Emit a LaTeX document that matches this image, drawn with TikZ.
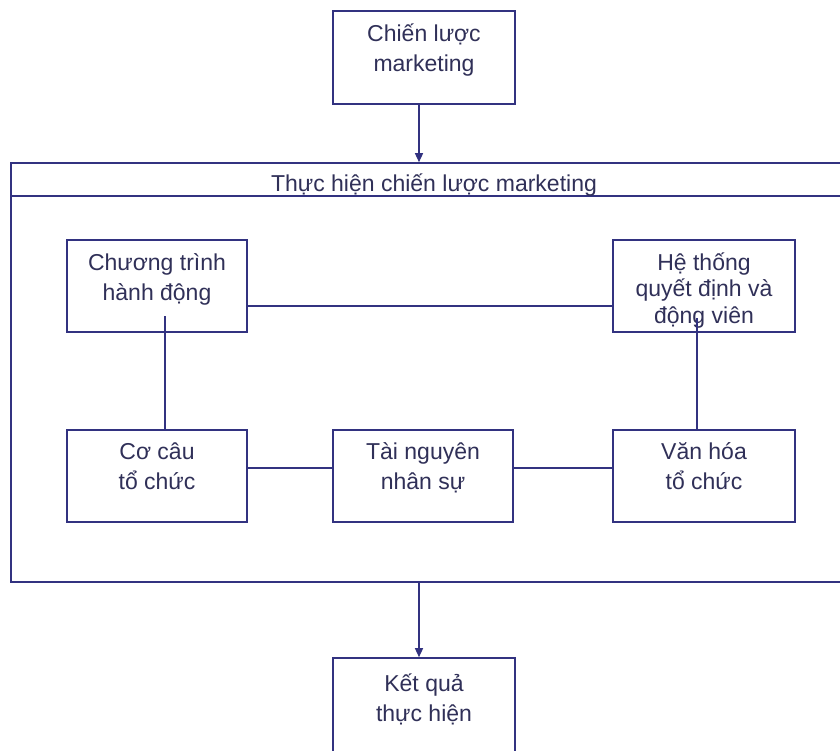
\documentclass[tikz,border=0pt]{standalone}
\usepackage{fontspec}
\setmainfont{Liberation Sans}
\usetikzlibrary{arrows.meta}
\definecolor{frame}{RGB}{50,50,128}
\definecolor{ink}{RGB}{48,48,88}
% invisible strut that fixes the height of a label's first line
\newcommand\lnstrut{\rule{0pt}{25pt}}
\begin{document}
\begin{tikzpicture}[x=1pt,y=-1pt,
  box/.style={draw=frame,line width=1.6pt,minimum width=180pt,minimum height=92pt,inner sep=0pt},
  lbl/.style={anchor=north,inner sep=0pt,align=center,text=ink,font=\fontsize{23}{30}\selectfont},
  link/.style={draw=frame,line width=1.4pt},
  flow/.style={link,-{Triangle[width=8pt,length=9pt]}}]
\useasboundingbox[fill=white] (0,0) rectangle (840,750);

% outer frame with its title strip
\node[box,minimum width=846pt,minimum height=419pt] (outer) at (434,372.5) {};
\draw[link,line width=1.6pt] ([yshift=-34pt]outer.north west) -- ([yshift=-34pt]outer.north east);
\node[anchor=base,inner sep=0pt,text=ink,font=\fontsize{23}{30}\selectfont] (title) at (434,191) {Thực hiện chiến lược marketing};

% boxes
\node[box,minimum width=182pt,minimum height=93pt] (tm) at (424,57.5) {};
\node[box] (ct) at (157,286) {};
\node[box,minimum width=182pt] (ht) at (704,286) {};
\node[box] (cc) at (157,476) {};
\node[box] (tn) at (423,476) {};
\node[box,minimum width=182pt] (vh) at (704,476) {};
\node[box,minimum width=182pt,minimum height=100pt] (kq) at (424,708) {};

% box texts
\node[lbl,yshift=-6pt] (tmT) at (tm.north) {\lnstrut Chiến lược\\marketing};
\node[lbl,yshift=-6pt] (ctT) at (ct.north) {\lnstrut Chương trình\\hành động};
\node[lbl,yshift=-6pt,font=\fontsize{23}{26.5}\selectfont] (htT) at (ht.north) {\lnstrut Hệ thống\\quyết định và\\động viên};
\node[lbl,yshift=-5pt] (ccT) at (cc.north) {\lnstrut Cơ câu\\tổ chức};
\node[lbl,yshift=-5pt] (tnT) at (tn.north) {\lnstrut Tài nguyên\\nhân sự};
\node[lbl,yshift=-5pt] (vhT) at (vh.north) {\lnstrut Văn hóa\\tổ chức};
\node[lbl,yshift=-9pt] (kqT) at (kq.north) {\lnstrut Kết quả\\thực hiện};

% helper positions for the connectors
\coordinate (ax) at (419,0);
\coordinate (hy) at (0,306);
\coordinate (hz) at (0,468);
\coordinate (v1) at (165,316);
\coordinate (v2) at (697,318);

% connectors
\draw[flow] (tm.south -| ax) -- (outer.north -| ax);
\draw[flow] (outer.south -| ax) -- (kq.north -| ax);
\draw[link] (ct.east |- hy) -- (ht.west |- hy);
\draw[link] (v1) -- (v1 |- cc.north);
\draw[link] (v2) -- (v2 |- vh.north);
\draw[link] (cc.east |- hz) -- (tn.west |- hz);
\draw[link] (tn.east |- hz) -- (vh.west |- hz);
\end{tikzpicture}
\end{document}
